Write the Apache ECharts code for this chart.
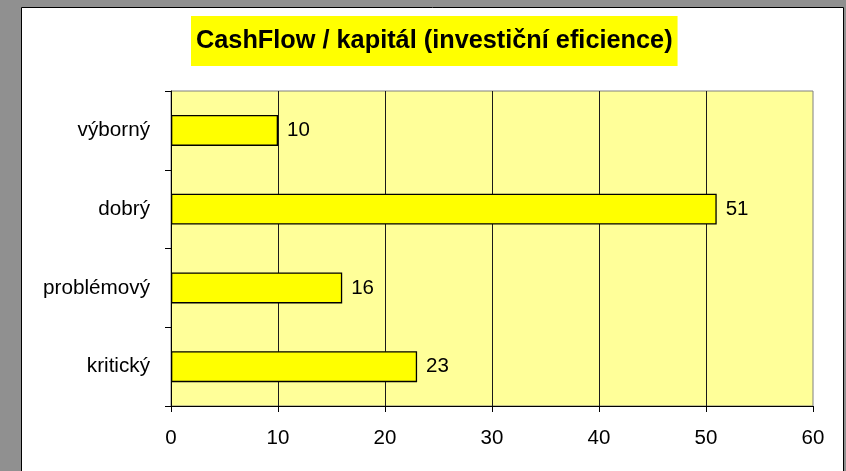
<!DOCTYPE html>
<html>
<head>
<meta charset="utf-8">
<script src="https://cdn.jsdelivr.net/npm/echarts@6/dist/echarts.min.js"></script>
<style>
  html, body { margin: 0; padding: 0; background: #909090; }
  #chart { width: 846px; height: 471px; }
</style>
</head>
<body>
<div id="chart"></div>
<script>
// Investment efficiency rating: number of companies per category
const titleText = 'CashFlow / kapitál (investiční eficience)';
const categories = ['výborný', 'dobrý', 'problémový', 'kritický'];
const counts = [10, 51, 16, 23];
const xTicks = { min: 0, max: 60, interval: 10 };

const FONT = '"Liberation Sans", Arial, sans-serif';

const chart = echarts.init(document.getElementById('chart'), null, { renderer: 'canvas' });

chart.setOption({
  backgroundColor: '#909090',
  animation: false,
  graphic: [{
    type: 'rect',
    z: -10,
    shape: { x: 21.5, y: 7.5, width: 822, height: 500 },
    style: { fill: '#ffffff', stroke: '#000000', lineWidth: 1 }
  }],
  title: {
    text: titleText,
    left: 191,
    top: 16,
    padding: [12, 5, 12, 5],
    backgroundColor: '#ffff00',
    textStyle: {
      fontFamily: FONT,
      fontSize: 25.3,
      fontWeight: 'bold',
      color: '#000000',
      lineHeight: 26
    }
  },
  grid: {
    left: 171,
    right: 33,
    top: 91,
    bottom: 65,
    show: true,
    backgroundColor: '#ffff99',
    borderColor: '#808080',
    borderWidth: 1,
    containLabel: false
  },
  xAxis: {
    type: 'value',
    min: xTicks.min,
    max: xTicks.max,
    interval: xTicks.interval,
    axisLine: { show: true, lineStyle: { color: '#000000', width: 1 } },
    axisTick: { show: true, length: 6, lineStyle: { color: '#000000' } },
    axisLabel: { fontFamily: FONT, fontSize: 20.5, color: '#000000', margin: 22 },
    splitLine: {
      show: true,
      showMinLine: false,
      showMaxLine: false,
      lineStyle: { color: '#1a1a1a', width: 1 }
    }
  },
  yAxis: {
    type: 'category',
    data: categories,
    inverse: true,
    axisLine: { show: true, lineStyle: { color: '#000000', width: 1 } },
    axisTick: { show: true, length: 6, lineStyle: { color: '#000000' } },
    axisLabel: { fontFamily: FONT, fontSize: 20.7, color: '#000000', margin: 21 },
    splitLine: { show: false }
  },
  series: [{
    type: 'bar',
    data: counts,
    barWidth: 31,
    itemStyle: { color: '#ffff00', borderColor: '#000000', borderWidth: 1.3 },
    label: {
      show: true,
      position: 'right',
      distance: 9,
      fontFamily: FONT,
      fontSize: 20.5,
      color: '#000000'
    }
  }]
});
</script>
</body>
</html>
